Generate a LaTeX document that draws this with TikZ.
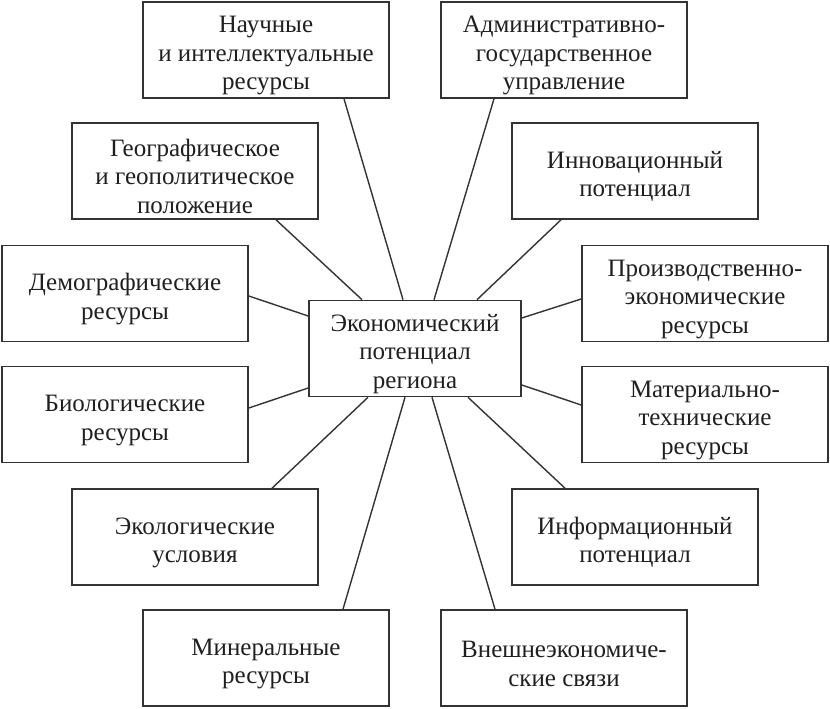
\documentclass[tikz,border=0pt]{standalone}
\usepackage{fontspec}
\setmainfont{Liberation Serif}
\newcommand\toppad{\rule{0pt}{28pt}}
\begin{document}
\begin{tikzpicture}[x=1pt,y=-1pt,
  box/.style={draw=black!80, line width=1.6pt, minimum width=246pt, minimum height=96pt,
    inner sep=0pt, align=center, text=black!88, font=\fontsize{25}{28.5}\selectfont},
  link/.style={draw=black!80, line width=1.4pt}]
\useasboundingbox (0,0) rectangle (830,709);
\node[box] (nauch) at (266,50) {\toppad Научные\\и интеллектуальные\\ресурсы};
\node[box] (adm) at (564,50) {\toppad Административно-\\государственное\\управление};
\node[box] (geo) at (195,171) {\toppad Географическое\\и геополитическое\\положение};
\node[box] (innov) at (635,171) {\toppad Инновационный\\потенциал};
\node[box] (demo) at (125,293.5) {\toppad Демографические\\ресурсы};
\node[box] (prod) at (705,293.5) {\toppad Производственно-\\экономические\\ресурсы};
\node[box, minimum width=212pt] (ctr) at (415,348.5) {\toppad Экономический\\потенциал\\региона};
\node[box] (bio) at (125,414.5) {\toppad Биологические\\ресурсы};
\node[box] (mat) at (705,414.5) {\toppad Материально-\\технические\\ресурсы};
\node[box] (eco) at (195,537) {\toppad Экологические\\условия};
\node[box] (info) at (635,537) {\toppad Информационный\\потенциал};
\node[box] (mine) at (266,658) {\toppad Минеральные\\ресурсы};
\node[box] (ext) at (564,658) {\toppad Внешнеэкономиче-\\ские связи};
\draw[link] ([xshift=78pt]nauch.south) -- ([xshift=-12pt]ctr.north);
\draw[link] ([xshift=-70pt]adm.south) -- ([xshift=19pt]ctr.north);
\draw[link] ([xshift=81pt]geo.south) -- ([xshift=-53pt]ctr.north);
\draw[link] ([xshift=-74pt]innov.south) -- ([xshift=62pt]ctr.north);
\draw[link] ([yshift=-2.5pt]demo.east) -- ([yshift=32.5pt]ctr.west);
\draw[link] ([yshift=-5.5pt]prod.west) -- ([yshift=30.5pt]ctr.east);
\draw[link] ([yshift=6.5pt]bio.east) -- ([yshift=-39.5pt]ctr.west);
\draw[link] ([yshift=9.5pt]mat.west) -- ([yshift=-36.5pt]ctr.east);
\draw[link] ([xshift=77pt]eco.north) -- ([xshift=-47pt]ctr.south);
\draw[link] ([xshift=-70pt]info.north) -- ([xshift=53pt]ctr.south);
\draw[link] ([xshift=77pt]mine.north) -- ([xshift=-10pt]ctr.south);
\draw[link] ([xshift=-69pt]ext.north) -- ([xshift=17pt]ctr.south);
\end{tikzpicture}
\end{document}
